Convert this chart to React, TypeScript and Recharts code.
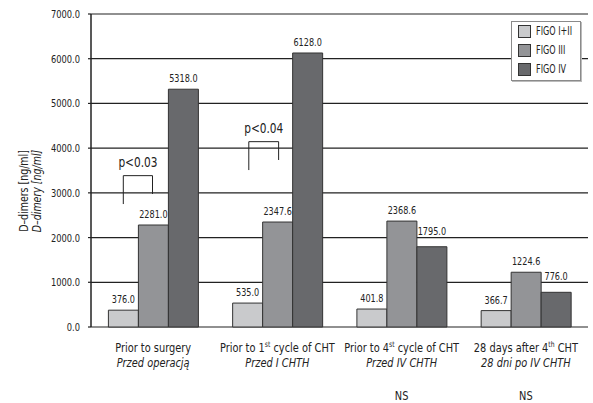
import React from 'react';
import {
  BarChart,
  Bar,
  XAxis,
  YAxis,
  CartesianGrid,
  LabelList,
  ReferenceLine,
  ReferenceDot
} from 'recharts';

// stage labels; "^" marks a superscript part (1^st^ -> 1 with raised "st")
const stages = ['Prior to surgery', 'Prior to 1^st^ cycle of CHT', 'Prior to 4^st^ cycle of CHT', '28 days after 4^th^ CHT'];
const stagesPl = ['Przed operacją', 'Przed I CHTH', 'Przed IV CHTH', '28 dni po IV CHTH'];
const significance = ['', '', 'NS', 'NS'];

const figo12 = [376.0, 535.0, 401.8, 366.7];
const figo3 = [2281.0, 2347.6, 2368.6, 1224.6];
const figo4 = [5318.0, 6128.0, 1795.0, 776.0];

const yTicks = [0, 1000, 2000, 3000, 4000, 5000, 6000, 7000];
const seriesKeys = ['figo12', 'figo3', 'figo4'];
const seriesNames = ['FIGO I+II', 'FIGO III', 'FIGO IV'];
const seriesColors = ['#c9cacc', '#939497', '#68696c'];

const data = stages.map((s, i) => ({
  stage: s,
  pos: i + 0.5,
  figo12: figo12[i],
  figo3: figo3[i],
  figo4: figo4[i]
}));

// significance brackets, x in stage units (0..4) on the helper axis
const brackets = [
  { text: 'p<0.03', x0: 0.26, x1: 0.495, top: 3385, left: 2750, right: 2975, textY: 3700 },
  { text: 'p<0.04', x0: 1.27, x1: 1.51, top: 4145, left: 3510, right: 3735, textY: 4440 }
];

const FONT = '"DejaVu Sans Condensed", "Liberation Sans Narrow", "Arial Narrow", sans-serif';
const INK = '#222';
const SQUEEZE = 0.84;

// horizontally squeezed text, for the narrow print face
const Narrow = ({ x, y, size, italic, rotate, anchor = 'middle', squeeze = SQUEEZE, children }: any) => (
  <g transform={`translate(${x},${y})${rotate ? ` rotate(${rotate})` : ''} scale(${squeeze},1)`}>
    <text x={0} y={0} textAnchor={anchor} fontSize={size} fontStyle={italic ? 'italic' : 'normal'} fontFamily={FONT} fill={INK}>
      {children}
    </text>
  </g>
);

const StageTick = (props: any) => {
  const { x, y, payload } = props;
  const i = stages.indexOf(payload.value);
  const [a, sup, b] = String(payload.value).split('^');
  return (
    <g>
      <Narrow x={x} y={y + 25} size={13}>
        <tspan>{a}</tspan>
        {sup && <tspan fontSize={8} dy={-5}>{sup}</tspan>}
        {b && <tspan dy={5}>{b}</tspan>}
      </Narrow>
      <Narrow x={x} y={y + 40} size={13} italic>
        {stagesPl[i]}
      </Narrow>
      {significance[i] && (
        <Narrow x={x} y={y + 73} size={13}>
          {significance[i]}
        </Narrow>
      )}
    </g>
  );
};

const ValueTick = (props: any) => {
  const { x, y, payload } = props;
  return (
    <Narrow x={x} y={y + 4} size={10.5} anchor="end" squeeze={0.88}>
      {Number(payload.value).toFixed(1)}
    </Narrow>
  );
};

const YTitle = () => (
  <g>
    <Narrow x={28} y={191} size={12.5} rotate={-90}>D–dimers [ng/ml]</Narrow>
    <Narrow x={41} y={191} size={12.5} rotate={-90} italic>D–dimery [ng/ml]</Narrow>
  </g>
);

const PText = ({ cx, cy, text }: any) => (
  <Narrow x={cx} y={cy + 5} size={14}>{text}</Narrow>
);

// the two lower FIGO IV labels sit a little higher, clear of the neighbouring label
const labelLift = (k: number, i: number) => (k === 2 && i >= 2 ? 5 : 0);

const makeValueLabel = (k: number) => (p: any) => {
  const { x, y, width, value, index } = p;
  return (
    <Narrow x={Number(x) + Number(width) / 2} y={Number(y) - 7 - labelLift(k, index)} size={10.5} squeeze={0.86}>
      {Number(value).toFixed(1)}
    </Narrow>
  );
};

const LegendBox = () => (
  <div
    style={{
      position: 'absolute',
      left: 511,
      top: 21,
      width: 68,
      height: 58,
      border: '1px solid #8a8a8a',
      boxShadow: '1px 1px 0 #bbb',
      background: '#fff',
      fontFamily: FONT,
      fontSize: 11.5,
      color: INK
    }}
  >
    {seriesNames.map((n, i) => (
      <div key={n} style={{ position: 'absolute', left: 6, top: 2 + i * 19, display: 'flex', alignItems: 'center', whiteSpace: 'nowrap' }}>
        <span style={{ width: 11, height: 11, background: seriesColors[i], border: '1px solid #333', display: 'inline-block' }} />
        <span style={{ marginLeft: 5, display: 'inline-block', transform: 'scaleX(0.78)', transformOrigin: 'left center' }}>{n}</span>
      </div>
    ))}
  </div>
);

export default function App() {
  return (
    <div style={{ position: 'relative', width: 593, height: 403, background: '#fff' }}>
      <style>{'body{margin:0}'}</style>
      <BarChart
        width={593}
        height={403}
        data={data}
        margin={{ top: 14, right: 5, bottom: 0, left: 0 }}
        barGap={0}
        barCategoryGap="14%"
      >
        <CartesianGrid horizontal vertical={false} stroke={INK} strokeWidth={1.2} strokeOpacity={1} yAxisId="y" xAxisId="cat" />
        <XAxis
          xAxisId="num"
          dataKey="pos"
          type="number"
          scale="linear"
          domain={[0, 4]}
          ticks={[0, 1, 2, 3, 4]}
          allowDataOverflow
          height={0}
          tick={() => <g />}
          tickSize={5}
          tickLine={{ stroke: INK, strokeWidth: 1.2 }}
          axisLine={{ stroke: INK, strokeWidth: 1.5 }}
        />
        <XAxis
          xAxisId="cat"
          dataKey="stage"
          height={76}
          tickSize={0}
          tickMargin={0}
          tickLine={false}
          axisLine={false}
          interval={0}
          tick={<StageTick />}
        />
        <YAxis
          yAxisId="y"
          width={91}
          domain={[0, 7000]}
          ticks={yTicks}
          tickSize={3}
          tickMargin={8}
          tick={<ValueTick />}
          tickLine={{ stroke: INK, strokeWidth: 1.2 }}
          axisLine={{ stroke: INK, strokeWidth: 1.5 }}
          label={<YTitle />}
        />
        <YAxis
          yAxisId="frame"
          orientation="right"
          width={0}
          domain={[0, 7000]}
          tick={false}
          tickLine={false}
          axisLine={{ stroke: INK, strokeWidth: 1.5 }}
        />
        {seriesKeys.map((key, k) => (
          <Bar
            key={key}
            xAxisId="cat"
            yAxisId="y"
            dataKey={key}
            fill={seriesColors[k]}
            stroke="#333"
            strokeWidth={1}
            isAnimationActive={false}
          >
            <LabelList dataKey={key} content={makeValueLabel(k)} />
          </Bar>
        ))}
        {brackets.map((b) => (
          <React.Fragment key={b.text}>
            <ReferenceLine xAxisId="num" yAxisId="y" stroke={INK} strokeWidth={1} segment={[{ x: b.x0, y: b.left }, { x: b.x0, y: b.top }]} />
            <ReferenceLine xAxisId="num" yAxisId="y" stroke={INK} strokeWidth={1} segment={[{ x: b.x0, y: b.top }, { x: b.x1, y: b.top }]} />
            <ReferenceLine xAxisId="num" yAxisId="y" stroke={INK} strokeWidth={1} segment={[{ x: b.x1, y: b.top }, { x: b.x1, y: b.right }]} />
            <ReferenceDot
              xAxisId="num"
              yAxisId="y"
              x={(b.x0 + b.x1) / 2}
              y={b.textY}
              r={0}
              shape={(p: any) => <PText cx={p.cx} cy={p.cy} text={b.text} />}
            />
          </React.Fragment>
        ))}
      </BarChart>
      <LegendBox />
    </div>
  );
}
